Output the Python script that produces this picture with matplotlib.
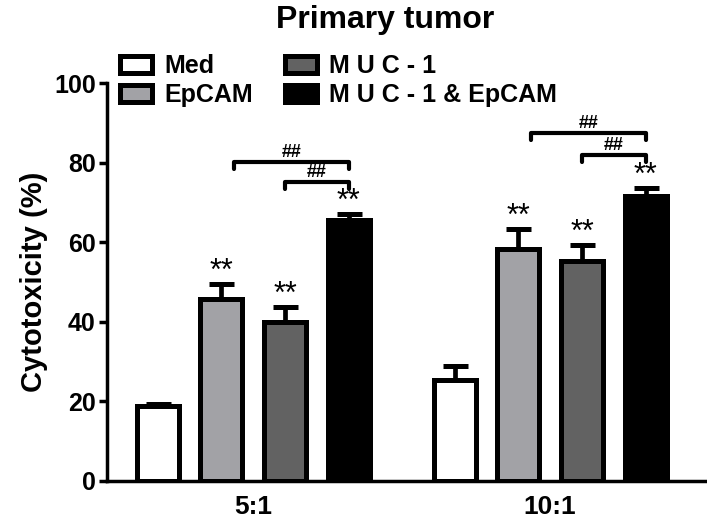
import numpy as np
import matplotlib
matplotlib.use('Agg')
import matplotlib.pyplot as plt

plt.rcParams['font.family'] = ['Liberation Sans', 'DejaVu Sans']

# data
categories = ['5:1', '10:1']
series = ['Med', 'EpCAM', 'M U C - 1', 'M U C - 1 & EpCAM']
colors = ['white', '#a2a2a6', '#626262', 'black']
med = [18.7, 25.3]
med_err = [0.7, 3.5]
epcam = [45.7, 58.2]
epcam_err = [3.7, 5.0]
muc1 = [39.9, 55.2]
muc1_err = [3.7, 4.0]
combo = [65.7, 71.5]
combo_err = [1.3, 2.0]
stars = ['', '**', '**', '**']
# brackets: (from series, to series, height) for each group
brackets = [[(1, 3, 80.2), (2, 3, 75.1)],
            [(1, 3, 87.4), (2, 3, 81.9)]]
bracket_label = '##'

values = [med, epcam, muc1, combo]
errors = [med_err, epcam_err, muc1_err, combo_err]

group_x = np.array([0, 4.66])
offsets = np.array([-1.5, -0.5, 0.5, 1.5])
width = 0.66

fig = plt.figure(figsize=(7.07, 5.29), dpi=100)
ax = fig.add_axes([0.151, 0.091, 0.846, 0.752])

for i in range(len(series)):
    x = group_x + offsets[i]
    ax.bar(x, values[i], width, color=colors[i], edgecolor='black', linewidth=3.6,
           label=series[i], zorder=3)
    ax.errorbar(x, values[i], yerr=[np.zeros(len(x)), errors[i]], fmt='none',
                ecolor='black', elinewidth=3.4, capsize=9, capthick=3.6, zorder=2)
    for j in range(len(x)):
        if stars[i]:
            ax.annotate(stars[i], (x[j], values[i][j] + errors[i][j]), xytext=(0, 3),
                        textcoords='offset points', ha='center', va='baseline',
                        fontsize=22)

for g in range(len(categories)):
    for a, b, h in brackets[g]:
        x1 = group_x[g] + offsets[a]
        if a == 1:
            x1 += 0.2
        x2 = group_x[g] + offsets[b]
        ax.plot([x1, x1, x2, x2], [h - 1.8, h, h, h - 1.8], color='black', lw=3,
                solid_capstyle='round', solid_joinstyle='round', zorder=4)
        ax.text((x1 + x2) / 2, h + 0.3, bracket_label, ha='center', va='bottom',
                fontsize=13, fontweight='bold')

ax.set_xlim(-2.3, 7.09)
ax.set_ylim(0, 100)
ax.set_yticks([0, 20, 40, 60, 80, 100])
ax.set_xticks(group_x)
ax.set_xticklabels(categories)
for s in ['top', 'right']:
    ax.spines[s].set_visible(False)
for s in ['left', 'bottom']:
    ax.spines[s].set_linewidth(2.5)
ax.tick_params(axis='y', length=6, width=2.5, labelsize=18, pad=2)
ax.tick_params(axis='x', length=0, labelsize=19, pad=10)
for lab in ax.get_xticklabels() + ax.get_yticklabels():
    lab.set_fontweight('bold')
ax.set_ylabel('Cytotoxicity (%)', fontsize=21, fontweight='bold', labelpad=4)

fig.text(0.545, 1 - 20 / 529, 'Primary tumor', ha='center', va='center',
         fontsize=23, fontweight='bold')

handles, labels = ax.get_legend_handles_labels()
leg = fig.legend(handles, labels, loc='upper left', bbox_to_anchor=(120 / 707, 1 - 54 / 529),
                 ncol=2, frameon=False, borderpad=0, borderaxespad=0,
                 prop={'size': 18, 'weight': 'bold'}, handlelength=1.28, handleheight=0.68,
                 handletextpad=0.48, columnspacing=1.3, labelspacing=0.2)

fig.savefig('out.png', dpi=100)
